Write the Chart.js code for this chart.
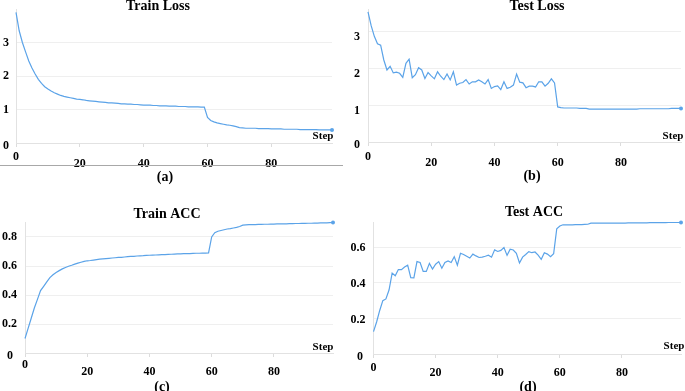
<!DOCTYPE html>
<html>
<head>
<meta charset="utf-8">
<script src="https://cdn.jsdelivr.net/npm/chart.js@4.4.1/dist/chart.umd.min.js"></script>
<style>
  html, body { margin: 0; padding: 0; background: #fff; }
  #wrap { position: relative; width: 685px; height: 391px; overflow: hidden; }
  #wrap canvas { position: absolute; }
</style>
</head>
<body>
<div id="wrap">
  <canvas id="a" width="345" height="195" style="left:0;top:0"></canvas>
  <canvas id="b" width="340" height="195" style="left:345px;top:0"></canvas>
  <canvas id="c" width="345" height="196" style="left:0;top:195px"></canvas>
  <canvas id="d" width="340" height="196" style="left:345px;top:195px"></canvas>
</div>
<script>
const steps = Array.from({ length: 100 }, (_, i) => i);
const xTicks = [0, 20, 40, 60, 80];
const lossTicks = [0, 1, 2, 3];
const accTicksTrain = [0, 0.2, 0.4, 0.6, 0.8];
const accTicksTest = [0, 0.2, 0.4, 0.6];

const trainLoss = [3.90,3.35,3.00,2.72,2.45,2.24,2.06,1.90,1.78,1.68,
  1.61,1.55,1.50,1.46,1.42,1.39,1.37,1.35,1.33,1.31,
  1.30,1.29,1.27,1.26,1.25,1.24,1.23,1.22,1.21,1.20,
  1.20,1.19,1.18,1.17,1.17,1.16,1.16,1.15,1.15,1.14,
  1.13,1.13,1.13,1.12,1.12,1.11,1.11,1.11,1.10,1.10,
  1.10,1.09,1.09,1.09,1.08,1.08,1.08,1.08,1.07,1.07,
  0.76,0.67,0.63,0.60,0.58,0.56,0.54,0.53,0.51,0.49,
  0.46,0.45,0.44,0.44,0.44,0.44,0.43,0.43,0.43,0.43,
  0.42,0.42,0.42,0.42,0.41,0.41,0.41,0.41,0.41,0.40,
  0.40,0.40,0.40,0.40,0.40,0.39,0.39,0.39,0.39,0.39];

const testLoss = [3.52,3.15,2.86,2.66,2.62,2.22,1.95,2.05,1.87,1.89,
  1.86,1.75,2.13,2.24,1.74,1.82,2.01,1.95,1.72,1.88,
  1.79,1.71,1.90,1.78,1.69,1.84,1.68,1.90,1.54,1.59,
  1.61,1.69,1.57,1.63,1.63,1.68,1.63,1.57,1.69,1.45,
  1.50,1.52,1.42,1.63,1.45,1.48,1.54,1.84,1.62,1.60,
  1.47,1.51,1.51,1.49,1.63,1.63,1.51,1.59,1.71,1.60,
  0.95,0.93,0.92,0.92,0.92,0.92,0.92,0.91,0.91,0.91,
  0.89,0.89,0.89,0.89,0.89,0.89,0.89,0.89,0.89,0.89,
  0.89,0.89,0.89,0.89,0.89,0.89,0.90,0.90,0.90,0.90,
  0.90,0.90,0.90,0.90,0.90,0.90,0.91,0.91,0.91,0.91];

const trainAcc = [0.10,0.17,0.24,0.31,0.37,0.43,0.46,0.49,0.52,0.54,
  0.555,0.568,0.58,0.59,0.598,0.605,0.613,0.62,0.626,0.632,
  0.636,0.638,0.641,0.644,0.647,0.649,0.651,0.653,0.655,0.657,
  0.659,0.660,0.662,0.664,0.666,0.667,0.669,0.670,0.671,0.673,
  0.674,0.675,0.676,0.677,0.678,0.679,0.680,0.681,0.682,0.683,
  0.684,0.685,0.686,0.686,0.687,0.688,0.688,0.689,0.689,0.690,
  0.800,0.830,0.840,0.845,0.850,0.855,0.858,0.862,0.866,0.872,
  0.882,0.884,0.885,0.886,0.886,0.887,0.887,0.888,0.888,0.889,
  0.889,0.890,0.890,0.891,0.891,0.892,0.892,0.893,0.893,0.894,
  0.894,0.895,0.895,0.896,0.896,0.897,0.897,0.898,0.899,0.900];

const testAcc = [0.126,0.18,0.245,0.30,0.31,0.36,0.455,0.44,0.475,0.475,
  0.49,0.50,0.43,0.428,0.52,0.515,0.465,0.465,0.51,0.478,
  0.505,0.52,0.483,0.515,0.524,0.515,0.548,0.50,0.567,0.56,
  0.55,0.54,0.562,0.552,0.543,0.545,0.55,0.556,0.545,0.586,
  0.577,0.583,0.599,0.555,0.59,0.585,0.567,0.512,0.545,0.56,
  0.576,0.57,0.574,0.556,0.533,0.57,0.562,0.548,0.565,0.705,
  0.72,0.727,0.727,0.727,0.727,0.728,0.728,0.728,0.729,0.730,
  0.736,0.737,0.737,0.737,0.737,0.737,0.736,0.736,0.737,0.737,
  0.737,0.737,0.738,0.738,0.738,0.738,0.738,0.738,0.738,0.739,
  0.739,0.739,0.739,0.739,0.739,0.740,0.740,0.740,0.740,0.740];

const LINE = '#5ba3e8';
const SERIF = '"Liberation Serif", "Times New Roman", serif';

// titles, captions, "Step" and tick labels drawn onto each panel
const panelText = {
  id: 'panelText',
  afterDraw(chart, args, o) {
    const { ctx, scales: { x, y } } = chart;
    ctx.save();
    ctx.fillStyle = '#000';
    ctx.textAlign = 'center';

    ctx.font = 'bold 14px ' + SERIF;
    ctx.textBaseline = 'alphabetic';
    ctx.fillText(o.title, o.titleX, o.titleY);

    ctx.textBaseline = 'middle';
    ctx.fillText(o.caption, o.capX, o.capY);

    ctx.font = 'bold 11px ' + SERIF;
    ctx.fillText('Step', o.stepX, o.stepY);

    ctx.font = 'bold 12px ' + SERIF;
    y.ticks.forEach(t => {
      const shift = t.value === 0 ? 3 : o.yShift;
      const lx = t.value === 0 ? o.yZeroX : o.yLabelX;
      ctx.fillText(o.yFmt(t.value), lx, y.getPixelForValue(t.value) + shift);
    });
    x.ticks.forEach(t => {
      const ly = t.value === 0 ? o.xZeroY : o.xLabelY;
      ctx.fillText(String(t.value), x.getPixelForValue(t.value), ly);
    });

    if (o.rule) {
      ctx.strokeStyle = '#a8a8a8';
      ctx.lineWidth = 1;
      ctx.beginPath();
      ctx.moveTo(0, o.rule + 0.5);
      ctx.lineTo(343, o.rule + 0.5);
      ctx.stroke();
    }
    ctx.restore();
  }
};

function makePanel(id, values, yMax, yTicks, pad, text) {
  new Chart(document.getElementById(id), {
    type: 'line',
    plugins: [ panelText ],
    data: {
      labels: steps,
      datasets: [{
        data: values,
        borderColor: LINE,
        borderWidth: 1.2,
        tension: 0,
        clip: false,
        pointRadius: ctx => ctx.dataIndex === values.length - 1 ? 2 : 0,
        pointBackgroundColor: LINE,
        pointBorderWidth: 0
      }]
    },
    options: {
      responsive: false,
      animation: false,
      layout: { padding: pad },
      plugins: {
        legend: { display: false },
        tooltip: { enabled: false },
        panelText: text
      },
      scales: {
        x: {
          type: 'linear',
          min: 0,
          max: 99,
          afterBuildTicks: s => { s.ticks = xTicks.map(v => ({ value: v })); },
          afterFit: s => { s.height = 0; },
          ticks: { display: false },
          grid: { drawOnChartArea: false, drawTicks: true, tickLength: 4, color: '#dcdcdc' },
          border: { color: '#e2e2e2' }
        },
        y: {
          min: 0,
          max: yMax,
          afterBuildTicks: s => { s.ticks = yTicks.map(v => ({ value: v })); },
          afterFit: s => { s.width = 0; },
          ticks: { display: false },
          grid: { drawTicks: false, color: '#efefef' },
          border: { color: '#e2e2e2' }
        }
      }
    }
  });
}

const intFmt = v => String(v);
const decFmt = v => v === 0 ? '0' : v.toFixed(1);

makePanel('a', trainLoss, 4, lossTicks,
  { left: 16, right: 13, top: 9, bottom: 52 },
  { title: 'Train Loss', titleX: 158, titleY: 10, caption: '(a)', capX: 165, capY: 177,
    stepX: 323, stepY: 136, yLabelX: 6, yZeroX: 6, yShift: 0, yFmt: intFmt,
    xZeroY: 157, xLabelY: 164, rule: 165 });

makePanel('b', testLoss, 3.6, lossTicks,
  { left: 23, right: 2, top: 9, bottom: 53 },
  { title: 'Test Loss', titleX: 192, titleY: 10, caption: '(b)', capX: 187, capY: 176,
    stepX: 328, stepY: 136, yLabelX: 12, yZeroX: 12, yShift: 6, yFmt: intFmt,
    xZeroY: 157, xLabelY: 163, rule: 0 });

makePanel('c', trainAcc, 0.9, accTicksTrain,
  { left: 25, right: 12, top: 27.5, bottom: 38 },
  { title: 'Train ACC', titleX: 167, titleY: 23, caption: '(c)', capX: 162, capY: 192,
    stepX: 323, stepY: 152, yLabelX: 9.5, yZeroX: 10, yShift: 0, yFmt: decFmt,
    xZeroY: 170, xLabelY: 177, rule: 0 });

makePanel('d', testAcc, 0.74, accTicksTest,
  { left: 28.5, right: 2, top: 27.5, bottom: 37 },
  { title: 'Test ACC', titleX: 189, titleY: 21, caption: '(d)', capX: 183, capY: 192,
    stepX: 329, stepY: 151, yLabelX: 13, yZeroX: 15, yShift: 1, yFmt: decFmt,
    xZeroY: 173, xLabelY: 178, rule: 0 });
</script>
</body>
</html>
